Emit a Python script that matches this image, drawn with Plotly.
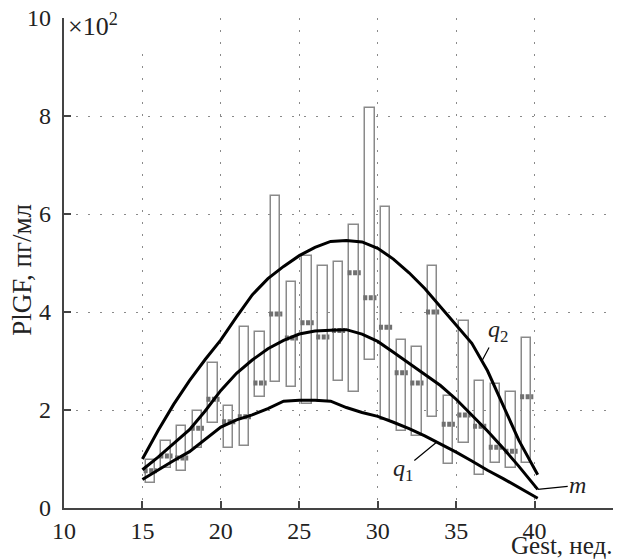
import numpy as np
import plotly.graph_objects as go

# ---- data ----
weeks = [15.5, 16.5, 17.5, 18.5, 19.5, 20.5, 21.5, 22.5, 23.5, 24.5, 25.5, 26.5, 27.5,
         28.5, 29.5, 30.5, 31.5, 32.5, 33.5, 34.5, 35.5, 36.5, 37.5, 38.5, 39.5]
box_low = [0.51, 0.82, 0.76, 1.22, 1.73, 1.22, 1.27, 2.27, 2.57, 2.47, 2.12, 2.16, 2.59,
           2.37, 3.02, 1.80, 1.57, 1.47, 1.86, 0.90, 1.33, 0.67, 0.92, 0.82, 0.92]
box_high = [0.98, 1.37, 1.67, 1.98, 2.96, 2.08, 3.69, 3.59, 6.37, 4.61, 5.14, 4.94, 5.02,
            5.78, 8.16, 6.14, 3.43, 3.29, 4.94, 2.29, 3.82, 2.59, 2.53, 2.37, 3.47]
box_med = [0.76, 1.06, 1.02, 1.63, 2.22, 1.76, 1.86, 2.55, 3.96, 3.47, 3.78, 3.49, 3.62,
           4.80, 4.29, 3.69, 2.76, 2.55, 4.00, 1.71, 1.90, 1.67, 1.24, 1.16, 2.27]

curve_x = [15, 16, 17, 18, 19, 20, 21, 22, 23, 24, 25, 26, 27, 28, 29, 30,
           31, 32, 33, 34, 35, 36, 37, 38, 39, 40.2]
q2 = [1.0, 1.58, 2.12, 2.6, 3.03, 3.43, 3.9, 4.35, 4.68, 4.93, 5.15, 5.32, 5.44, 5.46,
      5.43, 5.3, 5.08, 4.8, 4.48, 4.1, 3.72, 3.36, 2.8, 2.1, 1.38, 0.68]
m = [0.78, 1.04, 1.32, 1.6, 1.98, 2.4, 2.75, 3.02, 3.25, 3.42, 3.55, 3.61, 3.63, 3.64,
     3.55, 3.4, 3.18, 2.95, 2.72, 2.5, 2.22, 1.9, 1.57, 1.22, 0.85, 0.38]
q1 = [0.58, 0.78, 0.97, 1.15, 1.4, 1.65, 1.8, 1.9, 2.03, 2.18, 2.2, 2.2, 2.18, 2.05,
      1.95, 1.87, 1.75, 1.62, 1.47, 1.31, 1.14, 0.96, 0.77, 0.6, 0.42, 0.2]

x_ticks = [10, 15, 20, 25, 30, 35, 40, 45]
y_ticks = [0, 2, 4, 6, 8, 10]

SERIF = "Liberation Serif, Times New Roman, serif"
BOX_W = 0.6
MED_HALF = 0.42

fig = go.Figure()

# boxes (min..max)
fig.add_trace(go.Bar(
    x=weeks,
    y=[h - l for h, l in zip(box_high, box_low)],
    base=box_low,
    width=BOX_W,
    marker=dict(color="white", line=dict(color="#8a8a8a", width=1.5)),
    hoverinfo="skip",
    showlegend=False,
))

# medians
mx, my = [], []
for w, md in zip(weeks, box_med):
    mx += [w - MED_HALF, w + MED_HALF, None]
    my += [md, md, None]
fig.add_trace(go.Scatter(
    x=mx, y=my, mode="lines",
    line=dict(color="#707070", width=5, dash="4px,1.5px"),
    hoverinfo="skip", showlegend=False,
))

# curves
for ys in (q2, m, q1):
    fig.add_trace(go.Scatter(
        x=curve_x, y=ys, mode="lines",
        line=dict(color="black", width=3),
        hoverinfo="skip", showlegend=False,
    ))

axis_common = dict(
    showline=True, linecolor="#444", linewidth=1.5,
    ticks="inside", ticklen=7, tickwidth=1.5, tickcolor="#444",
    showgrid=True, gridcolor="#8a8a8a", gridwidth=1, griddash="2px,10px",
    zeroline=False, mirror=False,
    tickfont=dict(family=SERIF, size=24, color="#222"),
)

fig.update_layout(
    width=624, height=560,
    margin=dict(l=64, r=11, t=18, b=52),
    paper_bgcolor="white", plot_bgcolor="white",
    bargap=0,
    xaxis=dict(range=[10, 45], tickvals=x_ticks, **axis_common),
    yaxis=dict(range=[0, 10], tickvals=y_ticks, showticklabels=False, **axis_common),
)

def on_curve(xv, ys):
    return float(np.interp(xv, curve_x, ys))

annos = []
# y tick labels (placed a little further from the axis than plotly's default)
for v in y_ticks:
    annos.append(dict(xref="paper", yref="y", x=0, y=v, xanchor="right", yanchor="middle",
                      xshift=-12, text=str(v), showarrow=False, borderpad=0,
                      font=dict(family=SERIF, size=24, color="#222")))

annos += [
    # x10^2 multiplier
    dict(xref="paper", yref="paper", x=0.004, y=0.9857, xanchor="left", yanchor="middle",
         text="×10<sup>2</sup>", showarrow=False, bgcolor="white", width=86, height=42,
         align="left", font=dict(family=SERIF, size=26, color="#222")),
    # y title
    dict(xref="paper", yref="paper", x=-0.0765, y=0.486, xanchor="center", yanchor="middle",
         text="PlGF, пг/мл", textangle=-90, showarrow=False,
         font=dict(family=SERIF, size=27, color="#222")),
    # x title
    dict(xref="paper", yref="paper", x=1.0, y=-0.1061, xanchor="right", yanchor="bottom",
         text="Gest, нед.", showarrow=False, borderpad=0,
         font=dict(family=SERIF, size=25, color="#222")),
    # curve labels
    dict(x=36.64, y=on_curve(36.64, q2), xref="x", yref="y",
         text="<i>q</i><sub>2</sub>", showarrow=True, arrowhead=0, arrowwidth=1.2,
         arrowcolor="black", ax=16, ay=-30, font=dict(family=SERIF, size=24, color="#222")),
    dict(x=33.77, y=on_curve(33.77, q1), xref="x", yref="y",
         text="<i>q</i><sub>1</sub>", showarrow=True, arrowhead=0, arrowwidth=1.2,
         arrowcolor="black", ax=-34, ay=28, font=dict(family=SERIF, size=24, color="#222")),
    dict(x=curve_x[-1], y=m[-1], xref="x", yref="y",
         text="<i>m</i>", showarrow=True, arrowhead=0, arrowwidth=1.2,
         arrowcolor="black", ax=40, ay=-4, font=dict(family=SERIF, size=24, color="#222")),
]
fig.update_layout(annotations=annos)

fig.write_html("out.html")
